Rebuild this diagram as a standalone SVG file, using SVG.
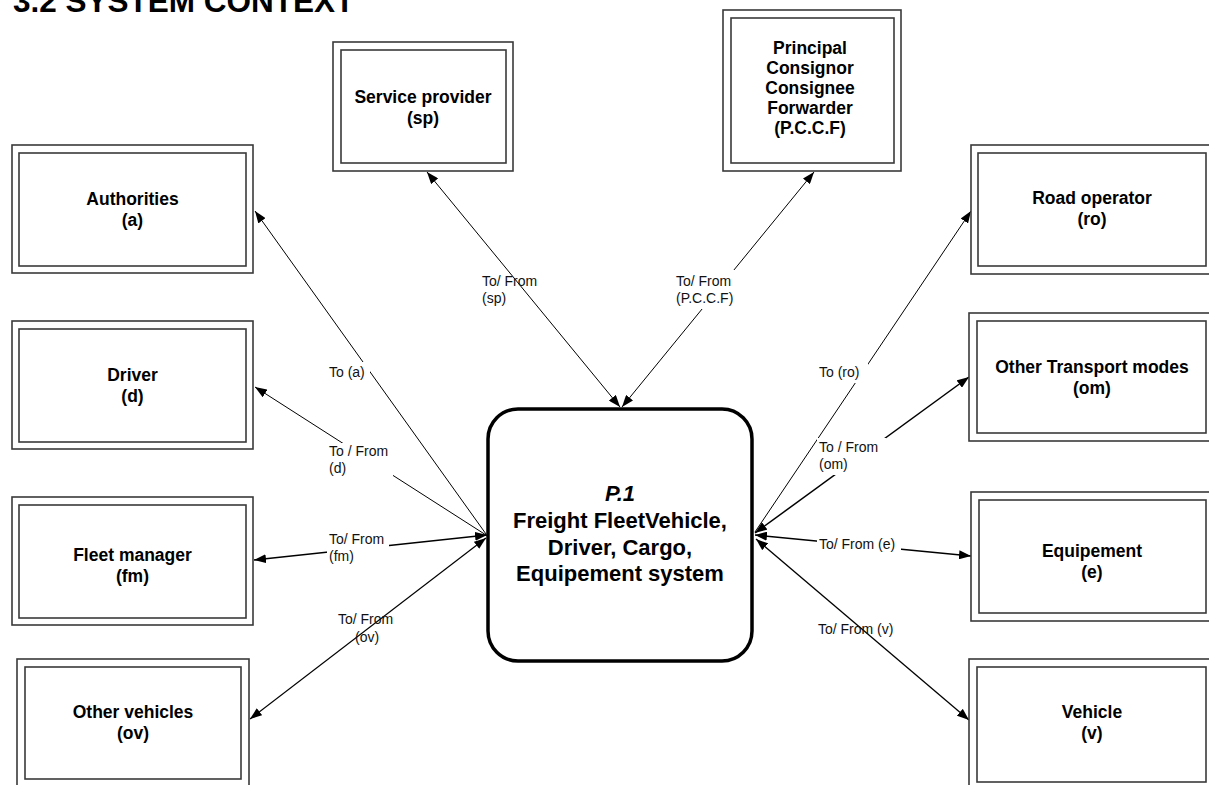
<svg xmlns="http://www.w3.org/2000/svg" width="1209" height="785" viewBox="0 0 1209 785">
<style>
.ob{fill:#fff;stroke:#3a3a3a;stroke-width:1.6}
.ib{fill:none;stroke:#3a3a3a;stroke-width:1.6}
.nt{font-family:"Liberation Sans",Arial,sans-serif;font-weight:bold;font-size:17.5px;fill:#000;text-anchor:middle}
.ct{font-family:"Liberation Sans",Arial,sans-serif;font-weight:bold;font-size:22px;fill:#000;text-anchor:middle}
.lb{font-family:"Liberation Sans",Arial,sans-serif;font-size:14px;fill:#111}
.cn{fill:none;stroke:#000}
.bg{fill:#fff}
</style>
<defs>
<marker id="ah" viewBox="0 0 12 9" refX="12" refY="4.5" markerWidth="12" markerHeight="9" markerUnits="userSpaceOnUse" orient="auto-start-reverse"><path d="M0,0 L12,4.5 L0,9 z" fill="#000"/></marker>
</defs>
<rect width="1209" height="785" fill="#fff"/>
<text x="13" y="12" font-family="Liberation Sans,Arial,sans-serif" font-weight="bold" font-size="31.5">3.2 SYSTEM CONTEXT</text>

<g id="connectors">
<path class="cn" stroke-width="1" d="M486,534 L255,211" marker-end="url(#ah)"/>
<path class="cn" stroke-width="1" d="M486,535 L255,387" marker-end="url(#ah)"/>
<path class="cn" stroke-width="1.5" d="M487,535 L254,560" marker-start="url(#ah)" marker-end="url(#ah)"/>
<path class="cn" stroke-width="1.2" d="M486,538 L250,719" marker-start="url(#ah)" marker-end="url(#ah)"/>
<path class="cn" stroke-width="1" d="M620,407 L427,172" marker-start="url(#ah)" marker-end="url(#ah)"/>
<path class="cn" stroke-width="1" d="M622,407 L814,172" marker-start="url(#ah)" marker-end="url(#ah)"/>
<path class="cn" stroke-width="1" d="M755,532 L971,211" marker-end="url(#ah)"/>
<path class="cn" stroke-width="1.5" d="M755,533 L969,377" marker-start="url(#ah)" marker-end="url(#ah)"/>
<path class="cn" stroke-width="1.5" d="M755,535 L971,556" marker-start="url(#ah)" marker-end="url(#ah)"/>
<path class="cn" stroke-width="1.3" d="M756,539 L969,720" marker-start="url(#ah)" marker-end="url(#ah)"/>

<rect class="bg" x="327" y="362" width="43" height="20"/>
<text class="lb" x="329" y="377">To (a)</text>
<rect class="bg" x="327" y="443" width="66" height="34"/>
<text class="lb" x="329" y="456">To / From</text>
<text class="lb" x="329" y="473">(d)</text>
<rect class="bg" x="327" y="531" width="62" height="34"/>
<text class="lb" x="329" y="544">To/ From</text>
<text class="lb" x="329" y="561">(fm)</text>
<text class="lb" x="338" y="624">To/ From</text>
<text class="lb" x="355" y="642">(ov)</text>
<text class="lb" x="482" y="286">To/ From</text>
<text class="lb" x="482" y="303">(sp)</text>
<rect class="bg" x="674" y="270" width="64" height="39"/>
<text class="lb" x="676" y="286">To/ From</text>
<text class="lb" x="676" y="303">(P.C.C.F)</text>
<rect class="bg" x="817" y="361" width="51" height="22"/>
<text class="lb" x="819" y="377">To (ro)</text>
<rect class="bg" x="817" y="438" width="69" height="37"/>
<text class="lb" x="819" y="452">To / From</text>
<text class="lb" x="819" y="469">(om)</text>
<rect class="bg" x="817" y="537" width="84" height="17"/>
<text class="lb" x="819" y="549">To/ From (e)</text>
<text class="lb" x="818" y="634">To/ From (v)</text>
</g>

<g id="center">
<rect x="488" y="409" width="264" height="252" rx="30" ry="30" fill="#fff" stroke="#000" stroke-width="3.5"/>
<text class="ct" x="620" y="501" font-style="italic">P.1</text>
<text class="ct" x="620" y="528">Freight FleetVehicle,</text>
<text class="ct" x="620" y="555">Driver, Cargo,</text>
<text class="ct" x="620" y="581">Equipement system</text>
</g>

<g id="authorities">
<rect class="ob" x="12" y="145" width="241" height="128"/>
<rect class="ib" x="19" y="153" width="227" height="113"/>
<text class="nt" x="132.5" y="205">Authorities</text>
<text class="nt" x="132.5" y="226">(a)</text>
</g>
<g id="driver">
<rect class="ob" x="12" y="321" width="241" height="128"/>
<rect class="ib" x="19" y="329" width="227" height="113"/>
<text class="nt" x="132.5" y="381">Driver</text>
<text class="nt" x="132.5" y="402">(d)</text>
</g>
<g id="fleet-manager">
<rect class="ob" x="12" y="497" width="241" height="128"/>
<rect class="ib" x="19" y="505" width="227" height="113"/>
<text class="nt" x="132.5" y="561">Fleet manager</text>
<text class="nt" x="132.5" y="582">(fm)</text>
</g>
<g id="other-vehicles">
<rect class="ob" x="17" y="659" width="232" height="128"/>
<rect class="ib" x="25" y="667" width="216" height="112"/>
<text class="nt" x="133" y="718">Other vehicles</text>
<text class="nt" x="133" y="739">(ov)</text>
</g>
<g id="service-provider">
<rect class="ob" x="333" y="42" width="180" height="129"/>
<rect class="ib" x="341" y="50" width="165" height="113"/>
<text class="nt" x="423" y="103">Service provider</text>
<text class="nt" x="423" y="124">(sp)</text>
</g>
<g id="pccf">
<rect class="ob" x="723" y="10" width="178" height="161"/>
<rect class="ib" x="731" y="18" width="163" height="145"/>
<text class="nt" x="810" y="54">Principal</text>
<text class="nt" x="810" y="74">Consignor</text>
<text class="nt" x="810" y="94">Consignee</text>
<text class="nt" x="810" y="114">Forwarder</text>
<text class="nt" x="810" y="134">(P.C.C.F)</text>
</g>
<g id="road-operator">
<rect class="ob" x="971" y="145" width="242" height="129"/>
<rect class="ib" x="978" y="153" width="228" height="113"/>
<text class="nt" x="1092" y="204">Road operator</text>
<text class="nt" x="1092" y="225">(ro)</text>
</g>
<g id="other-transport-modes">
<rect class="ob" x="969" y="313" width="244" height="128"/>
<rect class="ib" x="977" y="321" width="229" height="112"/>
<text class="nt" x="1092" y="373">Other Transport modes</text>
<text class="nt" x="1092" y="394">(om)</text>
</g>
<g id="equipement">
<rect class="ob" x="971" y="492" width="242" height="129"/>
<rect class="ib" x="979" y="500" width="227" height="113"/>
<text class="nt" x="1092" y="557">Equipement</text>
<text class="nt" x="1092" y="578">(e)</text>
</g>
<g id="vehicle">
<rect class="ob" x="969" y="659" width="244" height="131"/>
<rect class="ib" x="977" y="667" width="229" height="115"/>
<text class="nt" x="1092" y="718">Vehicle</text>
<text class="nt" x="1092" y="739">(v)</text>
</g>
</svg>
